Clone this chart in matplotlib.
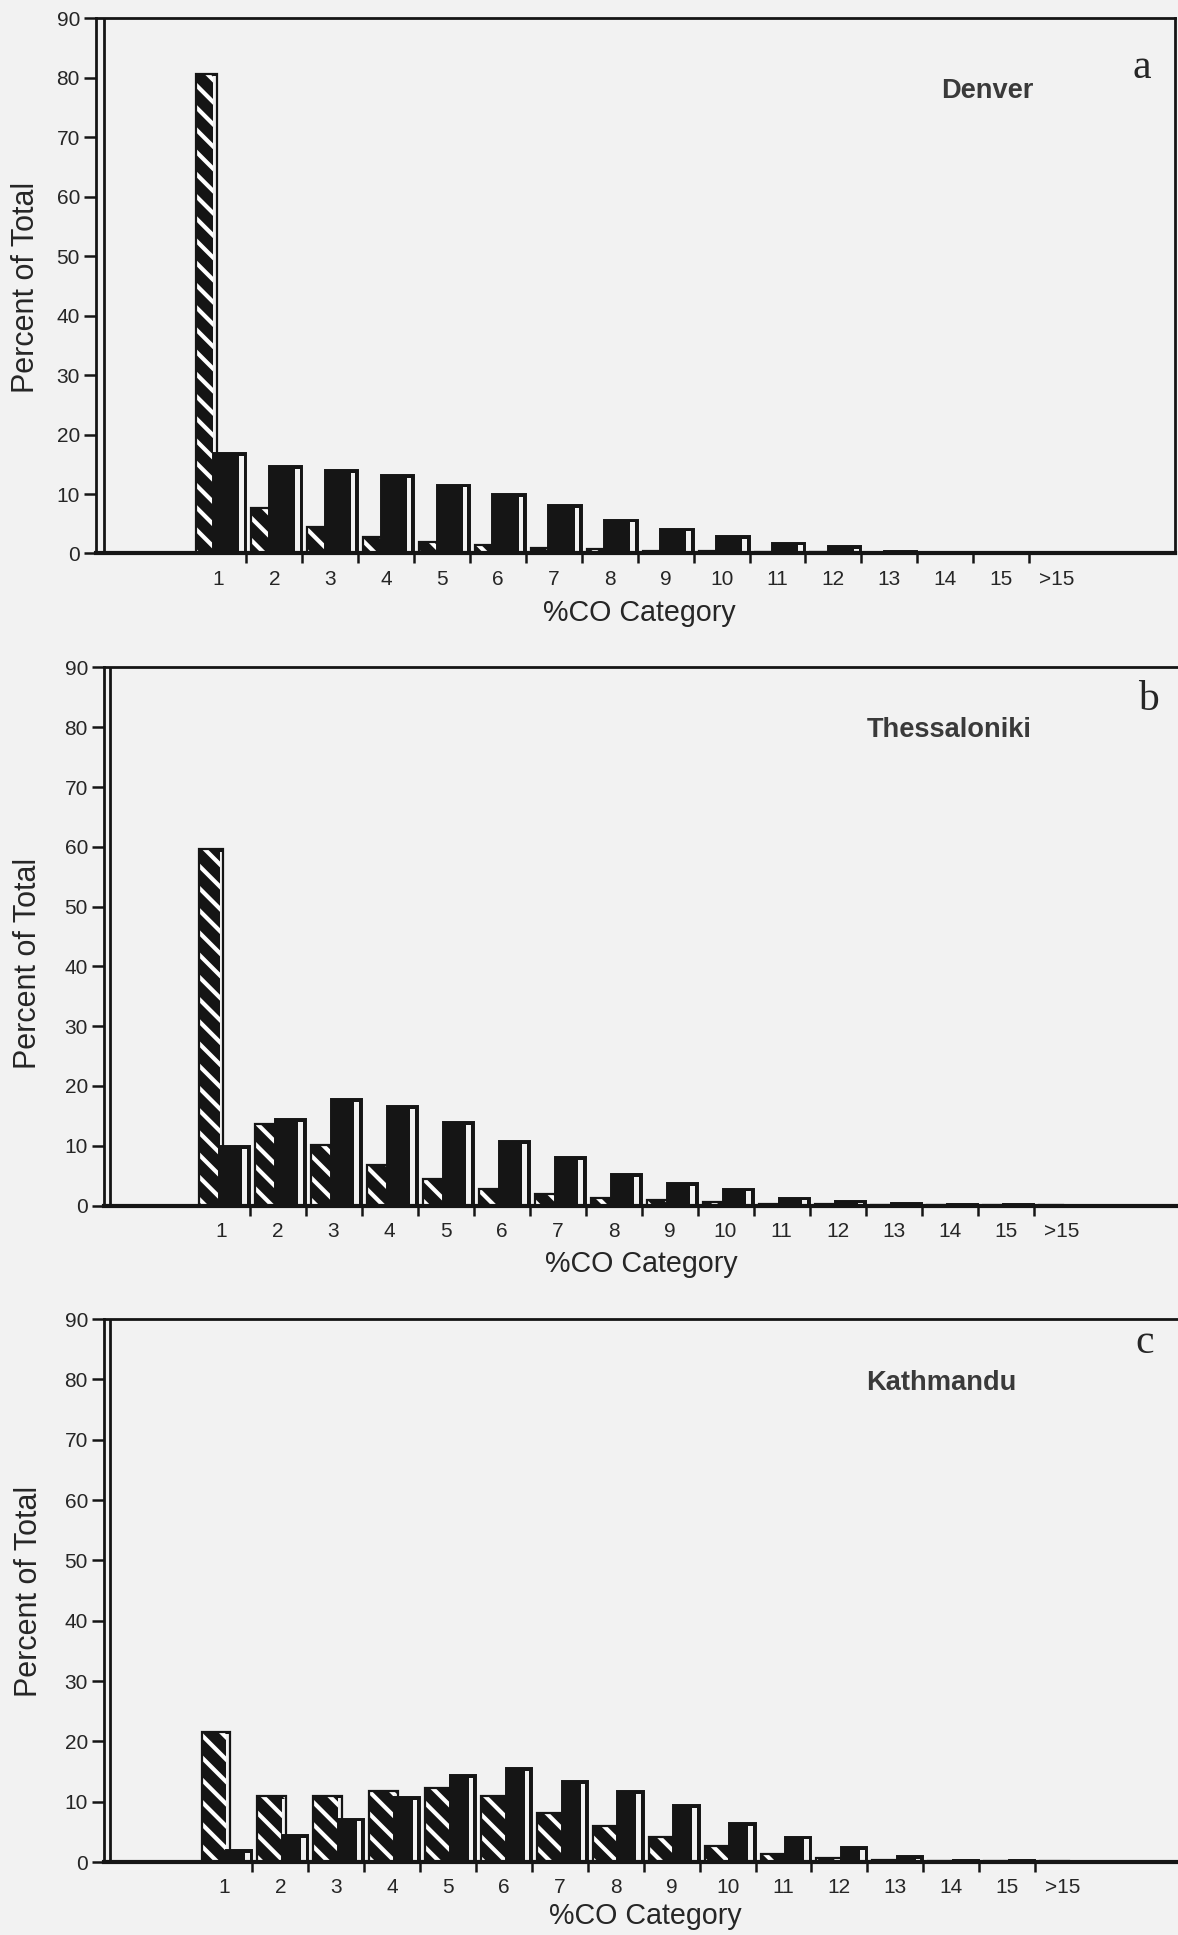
import numpy as np
import matplotlib
matplotlib.use('Agg')
import matplotlib.pyplot as plt
from matplotlib import font_manager

# %CO categories along the x axis
categories = ['1', '2', '3', '4', '5', '6', '7', '8', '9', '10',
              '11', '12', '13', '14', '15', '>15']

# percent of total per category (hatched and solid bars)
denver_hatched = [80.7, 7.6, 4.4, 2.8, 2.0, 1.4, 1.0, 0.8, 0.5, 0.4, 0.3, 0.2, 0.1, 0.1, 0.1, 0.05]
denver_solid = [16.9, 14.7, 14.0, 13.2, 11.6, 10.0, 8.1, 5.7, 4.2, 2.9, 1.8, 1.2, 0.5, 0.3, 0.2, 0.1]

thess_hatched = [59.6, 13.7, 10.1, 6.8, 4.5, 2.8, 2.0, 1.2, 0.9, 0.6, 0.3, 0.2, 0.1, 0.1, 0.05, 0.05]
thess_solid = [9.9, 14.5, 17.8, 16.6, 13.9, 10.8, 8.1, 5.2, 3.7, 2.8, 1.3, 0.8, 0.5, 0.3, 0.2, 0.1]

kath_hatched = [21.6, 10.9, 11.0, 11.7, 12.3, 10.9, 8.1, 6.0, 4.2, 2.7, 1.4, 0.7, 0.3, 0.2, 0.1, 0.1]
kath_solid = [2.0, 4.5, 7.2, 10.7, 14.4, 15.5, 13.4, 11.8, 9.4, 6.4, 4.2, 2.5, 1.0, 0.4, 0.3, 0.2]

cities = ['Denver', 'Thessaloniki', 'Kathmandu']
letters = ['a', 'b', 'c']
series = [(denver_hatched, denver_solid),
          (thess_hatched, thess_solid),
          (kath_hatched, kath_solid)]

W, H, DPI = 1178, 1935, 200
BG = '#f2f2f2'
INK = '#151515'
TEXT = '#262626'

# panel frames in pixels: outer y line, inner y line, centre of category 1,
# category spacing, right edge, top (90), bottom (0)
layout = [
    (96, 104, 218.5, 55.9, 1175, 18.5, 553.5),
    (104, 110, 221.5, 56.0, 1182, 667.5, 1205.5),
    (104, 110, 224.5, 55.9, 1182, 1319, 1862),
]
split = [-0.03, 0.03, 0.10]          # where hatched bar meets solid bar
xlabel_at = [(639, 613), (641, 1264), (645, 1916)]
ylabel_at = [(26, 287), (28, 963), (29, 1591)]
city_at = [(987, 98), (949, 737), (941, 1390)]
letter_at = [(1142, 78), (1148, 710), (1145, 1353)]

names = {f.name for f in font_manager.fontManager.ttflist}
if 'Liberation Sans Narrow' in names:
    city_font, city_size = 'Liberation Sans Narrow', 11.9
else:
    city_font, city_size = 'Liberation Sans', 9.8

plt.rcParams['font.family'] = 'Liberation Sans'
plt.rcParams['hatch.linewidth'] = 1.5

fig = plt.figure(figsize=(W / DPI, H / DPI), dpi=DPI, facecolor=BG)


def fx(px):
    return px / W


def fy(py):
    return 1 - py / H


x = np.arange(1, len(categories) + 1)

for i, (hatched, solid) in enumerate(series):
    outer, inner, c1, dx, right, top, bottom = layout[i]
    ax = fig.add_axes([fx(outer), fy(bottom),
                       fx(right) - fx(outer), fy(top) - fy(bottom)])
    ax.set_facecolor(BG)
    ax.set_xlim(1 + (outer - c1) / dx, 1 + (right - c1) / dx)
    ax.set_ylim(0, 90)

    hatched = np.asarray(hatched)
    solid = np.asarray(solid)
    left = x - 0.41
    mid = x + split[i]

    # hatched bars: black face with white diagonal lines and a lit side strip
    ax.bar(left, hatched, width=mid - left, align='edge', color=INK,
           edgecolor='white', hatch='\\\\\\', linewidth=0, zorder=2)
    ax.bar(mid - 0.065, np.clip(hatched - 0.45, 0, None), width=0.045,
           align='edge', color=BG, linewidth=0, zorder=3)
    ax.bar(left, hatched, width=mid - left, align='edge', facecolor='none',
           edgecolor=INK, linewidth=0.8, zorder=4)

    # solid bars in front, with their own lit strip on the right
    ax.bar(mid - 0.07, solid, width=x + 0.5 - (mid - 0.07), align='edge',
           color=INK, edgecolor=INK, linewidth=0.7, zorder=5)
    ax.bar(x + 0.37, np.clip(solid - 0.45, 0, None), width=0.08,
           align='edge', color=BG, linewidth=0, zorder=6)

    for side in ['top', 'right', 'left']:
        ax.spines[side].set_linewidth(1.0)
    ax.spines['bottom'].set_linewidth(1.5)
    for s in ax.spines.values():
        s.set_color(INK)
        s.set_zorder(8)
    ax.axvline(1 + (inner - c1) / dx, color=INK, lw=1.0, zorder=8)

    ax.set_yticks(np.arange(0, 91, 10))
    ax.tick_params(axis='y', direction='out', length=4.3, width=0.9,
                   pad=1.5, labelsize=7.5, color=INK, labelcolor=TEXT)
    ax.set_xticks(x)
    ax.set_xticklabels(categories)
    ax.set_xticks(np.arange(1.5, len(categories)), minor=True)
    ax.tick_params(axis='x', which='major', length=0, pad=5.8,
                   labelsize=7.5, labelcolor=TEXT)
    ax.tick_params(axis='x', which='minor', direction='out', length=3.6,
                   width=0.9, color=INK)

    fig.text(fx(xlabel_at[i][0]), fy(xlabel_at[i][1]), '%CO Category',
             ha='center', va='center', fontsize=10.3, color=TEXT)
    fig.text(fx(ylabel_at[i][0]), fy(ylabel_at[i][1]), 'Percent of Total',
             rotation=90, ha='center', va='center', fontsize=11, color=TEXT)
    fig.text(fx(city_at[i][0]), fy(city_at[i][1]), cities[i],
             family=city_font, weight='bold', fontsize=city_size,
             ha='center', va='baseline', color='#3a3a3a')
    fig.text(fx(letter_at[i][0]), fy(letter_at[i][1]), letters[i],
             family='Liberation Serif', fontsize=15,
             ha='center', va='baseline', color=TEXT)

fig.savefig('out.png', dpi=DPI, facecolor=BG)
